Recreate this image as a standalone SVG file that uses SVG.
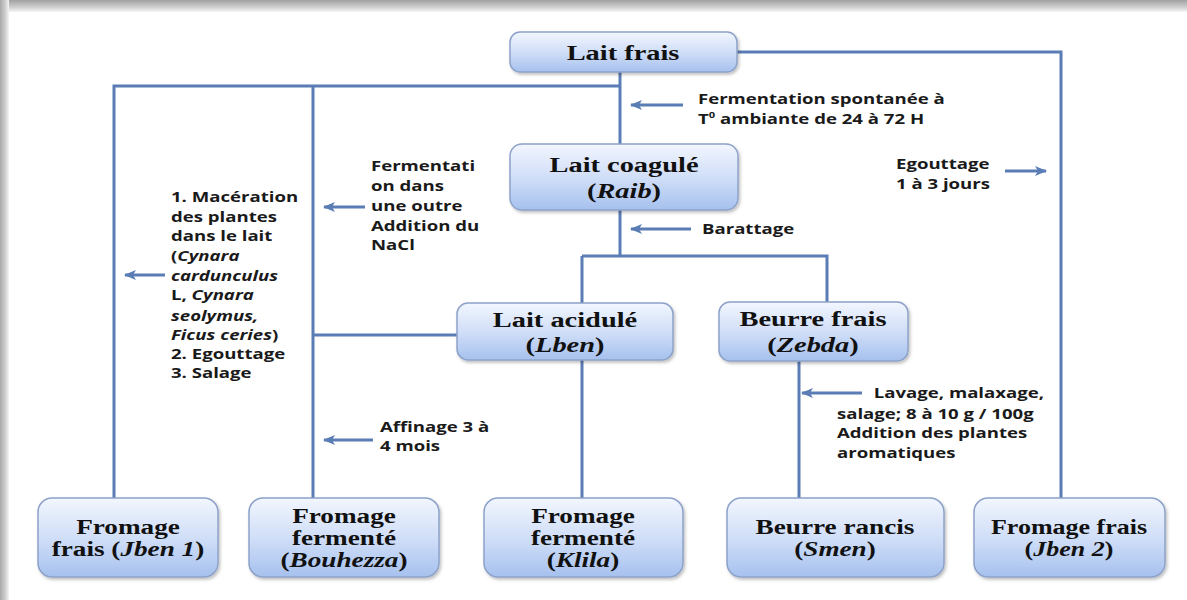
<svg xmlns="http://www.w3.org/2000/svg" width="1187" height="600" viewBox="0 0 1187 600">
<defs>
<linearGradient id="bx" x1="0" y1="0" x2="0" y2="1">
<stop offset="0" stop-color="#f2f6fe"/>
<stop offset="0.55" stop-color="#cddcf7"/>
<stop offset="1" stop-color="#a6c1ee"/>
</linearGradient>
<linearGradient id="topb" x1="0" y1="0" x2="0" y2="1">
<stop offset="0" stop-color="#a0a0a0"/>
<stop offset="0.6" stop-color="#cfcfcf"/>
<stop offset="1" stop-color="#f6f6f6"/>
</linearGradient>
<linearGradient id="leftb" x1="0" y1="0" x2="1" y2="0">
<stop offset="0" stop-color="#a8a8a8"/>
<stop offset="0.6" stop-color="#d0d0d0"/>
<stop offset="1" stop-color="#f4f4f4"/>
</linearGradient>
<filter id="sh" x="-10%" y="-10%" width="130%" height="140%">
<feDropShadow dx="1.5" dy="2" stdDeviation="1.8" flood-color="#000" flood-opacity="0.25"/>
</filter>
<marker id="ah" viewBox="0 0 12 10" refX="11" refY="5" markerWidth="12" markerHeight="10" markerUnits="userSpaceOnUse" orient="auto-start-reverse">
<path d="M0,0 L12,5 L0,10 L3,5 Z" fill="#5b7db5"/>
</marker>
</defs>
<style>
.box{fill:url(#bx);stroke:#8da2c9;stroke-width:1.5;filter:url(#sh)}
.n{font-family:"Liberation Serif","Times New Roman",serif;font-weight:700;font-size:20px;fill:#111;text-anchor:middle}
.a{font-family:"Open Sans","Liberation Sans",sans-serif;font-weight:700;font-size:15px;fill:#1a1a1a}
.ae{text-anchor:end}
.i{font-style:italic}
.c{fill:none;stroke:#5b7db5;stroke-width:3}
.ar{fill:none;stroke:#5b7db5;stroke-width:3}
</style>
<rect x="0" y="0" width="1187" height="600" fill="#ffffff"/>
<rect x="0" y="0" width="1187" height="12" fill="url(#topb)"/>
<rect x="0" y="0" width="9" height="600" fill="url(#leftb)"/>

<g id="connectors">
<path class="c" d="M737,52 H1061 V498"/>
<path class="c" d="M620,72 V144"/>
<path class="c" d="M620,86 H114 V498"/>
<path class="c" d="M313,86 V498"/>
<path class="c" d="M620,210 V256"/>
<path class="c" d="M582,256 H827 V302"/>
<path class="c" d="M582,256 V303"/>
<path class="c" d="M313,335 H457"/>
<path class="c" d="M582,360 V498"/>
<path class="c" d="M799,361 V498"/>
<path class="ar" d="M683,105 H631" marker-end="url(#ah)"/>
<path class="ar" d="M365,207 H324" marker-end="url(#ah)"/>
<path class="ar" d="M165,275 H125" marker-end="url(#ah)"/>
<path class="ar" d="M1005,171 H1046" marker-end="url(#ah)"/>
<path class="ar" d="M691,229 H631" marker-end="url(#ah)"/>
<path class="ar" d="M373,440 H324" marker-end="url(#ah)"/>
<path class="ar" d="M862,393 H802" marker-end="url(#ah)"/>
</g>

<g id="lait-frais">
<rect class="box" x="510" y="32" width="227" height="40" rx="10"/>
<text class="n" transform="translate(623 60) scale(1.42 1)">Lait frais</text>
</g>
<g id="lait-coagule">
<rect class="box" x="510" y="144" width="228" height="66" rx="12"/>
<text class="n" transform="translate(624 172) scale(1.42 1)">Lait coagulé</text>
<text class="n" transform="translate(624 198) scale(1.42 1)">(<tspan class="i">Raib</tspan>)</text>
</g>
<g id="lait-acidule">
<rect class="box" x="457" y="303" width="216" height="57" rx="11"/>
<text class="n" transform="translate(565 327) scale(1.42 1)">Lait acidulé</text>
<text class="n" transform="translate(565 352) scale(1.42 1)">(<tspan class="i">Lben</tspan>)</text>
</g>
<g id="beurre-frais">
<rect class="box" x="719" y="302" width="189" height="59" rx="11"/>
<text class="n" transform="translate(813 326) scale(1.42 1)">Beurre frais</text>
<text class="n" transform="translate(813 352) scale(1.42 1)">(<tspan class="i">Zebda</tspan>)</text>
</g>
<g id="jben1">
<rect class="box" x="38" y="498" width="180" height="79" rx="14"/>
<text class="n" transform="translate(128 534) scale(1.36 1)">Fromage</text>
<text class="n" transform="translate(128 556) scale(1.36 1)">frais (<tspan class="i">Jben 1</tspan>)</text>
</g>
<g id="bouhezza">
<rect class="box" x="249" y="498" width="190" height="79" rx="14"/>
<text class="n" transform="translate(344 523) scale(1.36 1)">Fromage</text>
<text class="n" transform="translate(344 545) scale(1.36 1)">fermenté</text>
<text class="n" transform="translate(344 567) scale(1.36 1)">(<tspan class="i">Bouhezza</tspan>)</text>
</g>
<g id="klila">
<rect class="box" x="484" y="498" width="199" height="79" rx="14"/>
<text class="n" transform="translate(583 523) scale(1.36 1)">Fromage</text>
<text class="n" transform="translate(583 545) scale(1.36 1)">fermenté</text>
<text class="n" transform="translate(583 567) scale(1.36 1)">(<tspan class="i">Klila</tspan>)</text>
</g>
<g id="smen">
<rect class="box" x="727" y="498" width="217" height="79" rx="14"/>
<text class="n" transform="translate(835 534) scale(1.36 1)">Beurre rancis</text>
<text class="n" transform="translate(835 556) scale(1.36 1)">(<tspan class="i">Smen</tspan>)</text>
</g>
<g id="jben2">
<rect class="box" x="974" y="498" width="191" height="79" rx="14"/>
<text class="n" transform="translate(1069 534) scale(1.3 1)">Fromage frais</text>
<text class="n" transform="translate(1069 556) scale(1.3 1)">(<tspan class="i">Jben 2</tspan>)</text>
</g>

<g id="labels">
<text class="a" transform="translate(698 104) scale(1.24 1)">Fermentation spontanée à</text>
<text class="a" transform="translate(698 124) scale(1.24 1)">T<tspan font-size="9" dy="-6">0</tspan><tspan dy="6"> ambiante de 24 à 72 H</tspan></text>
<text class="a" transform="translate(371 171) scale(1.24 1)">Fermentati</text>
<text class="a" transform="translate(371 191) scale(1.24 1)">on dans</text>
<text class="a" transform="translate(371 211) scale(1.24 1)">une outre</text>
<text class="a" transform="translate(371 231) scale(1.24 1)">Addition du</text>
<text class="a" transform="translate(371 250) scale(1.24 1)">NaCl</text>
<text class="a" transform="translate(171 202) scale(1.24 1)">1. Macération</text>
<text class="a" transform="translate(171 222) scale(1.24 1)">des plantes</text>
<text class="a" transform="translate(171 241) scale(1.24 1)">dans le lait</text>
<text class="a" transform="translate(171 261) scale(1.24 1)">(<tspan class="i">Cynara</tspan></text>
<text class="a" transform="translate(171 281) scale(1.24 1)"><tspan class="i">cardunculus</tspan></text>
<text class="a" transform="translate(171 300) scale(1.24 1)">L, <tspan class="i">Cynara</tspan></text>
<text class="a" transform="translate(171 321) scale(1.24 1)"><tspan class="i">seolymus,</tspan></text>
<text class="a" transform="translate(171 340) scale(1.24 1)"><tspan class="i">Ficus ceries</tspan>)</text>
<text class="a" transform="translate(171 359) scale(1.24 1)">2. Egouttage</text>
<text class="a" transform="translate(171 378) scale(1.24 1)">3. Salage</text>
<text class="a" transform="translate(896 169) scale(1.24 1)">Egouttage</text>
<text class="a" transform="translate(896 189) scale(1.24 1)">1 à 3 jours</text>
<text class="a" transform="translate(702 234) scale(1.24 1)">Barattage</text>
<text class="a" transform="translate(380 432) scale(1.24 1)">Affinage 3 à</text>
<text class="a" transform="translate(380 451) scale(1.24 1)">4 mois</text>
<text class="a ae" transform="translate(1044 398) scale(1.24 1)">Lavage, malaxage,</text>
<text class="a" transform="translate(837 419) scale(1.24 1)">salage; 8 à 10 g / 100g</text>
<text class="a" transform="translate(837 438) scale(1.24 1)">Addition des plantes</text>
<text class="a" transform="translate(837 458) scale(1.24 1)">aromatiques</text>
</g>
</svg>
